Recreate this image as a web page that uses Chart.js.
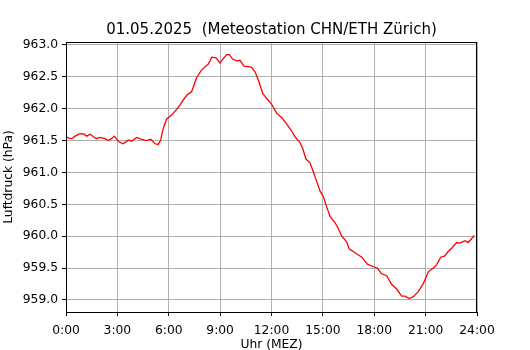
<!DOCTYPE html>
<html>
<head>
<meta charset="utf-8">
<title>Luftdruck 01.05.2025</title>
<script src="https://cdn.jsdelivr.net/npm/chart.js@4.4.1/dist/chart.umd.min.js"></script>
<style>
    body { margin: 0; background: #fff; }
    #chart { display: block; }
</style>
</head>
<body>
<canvas id="chart" width="530" height="350"></canvas>
<script>
// Messzeit (Stunden) und Luftdruck (hPa)
var hours = [0.00, 0.17, 0.33, 0.53, 0.75, 0.92, 1.05, 1.21, 1.40, 1.60, 1.79, 1.99, 2.15, 2.28, 2.47, 2.65,
    2.82, 3.06, 3.31, 3.50, 3.64, 3.83, 4.13, 4.42, 4.71, 4.94, 5.20, 5.39, 5.53, 5.68, 5.88, 6.17,
    6.46, 6.66, 6.85, 7.05, 7.34, 7.63, 7.92, 8.31, 8.51, 8.76, 8.99, 9.19, 9.38, 9.54, 9.73, 9.97,
    10.16, 10.39, 10.65, 10.84, 11.04, 11.23, 11.49, 11.72, 12.01, 12.30, 12.60, 12.89, 13.18, 13.37,
    13.66, 13.82, 14.01, 14.25, 14.44, 14.64, 14.83, 15.03, 15.22, 15.42, 15.71, 15.90, 16.10, 16.39,
    16.53, 16.88, 17.27, 17.60, 17.95, 18.18, 18.43, 18.73, 19.02, 19.31, 19.60, 19.80, 20.05, 20.28,
    20.57, 20.87, 21.16, 21.45, 21.64, 21.88, 22.13, 22.32, 22.52, 22.81, 23.01, 23.30, 23.49, 23.84];
var pressure = [961.56, 961.54, 961.53, 961.57, 961.60, 961.61, 961.60, 961.57, 961.60, 961.56, 961.53, 961.55, 961.54, 961.53, 961.50, 961.53,
    961.57, 961.49, 961.45, 961.48, 961.51, 961.49, 961.55, 961.52, 961.50, 961.52, 961.45, 961.44, 961.51, 961.69, 961.84, 961.90,
    961.99, 962.06, 962.14, 962.21, 962.27, 962.49, 962.61, 962.70, 962.81, 962.80, 962.72, 962.79, 962.85, 962.85, 962.78, 962.75,
    962.76, 962.67, 962.66, 962.65, 962.58, 962.45, 962.24, 962.16, 962.07, 961.93, 961.86, 961.76, 961.65, 961.56,
    961.47, 961.38, 961.21, 961.15, 961.01, 960.86, 960.71, 960.62, 960.46, 960.31, 960.21, 960.12, 960.00, 959.91,
    959.80, 959.74, 959.67, 959.56, 959.52, 959.50, 959.41, 959.38, 959.24, 959.17, 959.06, 959.06, 959.02, 959.05,
    959.13, 959.26, 959.44, 959.50, 959.55, 959.67, 959.69, 959.76, 959.81, 959.90, 959.89, 959.93, 959.90, 960.01];

var xTicks = [0, 3, 6, 9, 12, 15, 18, 21, 24];
var xLabels = ["0:00", "3:00", "6:00", "9:00", "12:00", "15:00", "18:00", "21:00", "24:00"];
var yTicks = [959.0, 959.5, 960.0, 960.5, 961.0, 961.5, 962.0, 962.5, 963.0];

var titleText = "01.05.2025  (Meteostation CHN/ETH Zürich)";
var fontFam = "'DejaVu Sans', sans-serif";

var points = hours.map(function (h, i) {
    return {x: h, y: pressure[i]};
});

// Rahmen und Titel wie bei matplotlib
var framePlugin = {
    id: 'frame',
    afterDraw: function (chart) {
        var a = chart.chartArea;
        var c = chart.ctx;
        c.save();
        c.strokeStyle = '#000';
        c.lineWidth = 1;
        c.strokeRect(a.left + 0.5, a.top + 0.5, a.right - a.left - 1, a.bottom - a.top);
        c.fillStyle = '#000';
        c.font = "15px " + fontFam;
        c.textAlign = 'center';
        c.textBaseline = 'alphabetic';
        c.fillText(titleText, (a.left + a.right) / 2, 34);
        c.restore();
    }
};

var ctx = document.getElementById('chart').getContext('2d');
var myChart = new Chart(ctx, {
    type: 'line',
    data: {
        datasets: [{
            data: points,
            borderColor: 'red',
            borderWidth: 1.3,
            pointRadius: 0,
            tension: 0,
            fill: false
        }]
    },
    options: {
        responsive: false,
        animation: false,
        devicePixelRatio: 1,
        layout: {padding: {left: 0, right: 53, top: 42, bottom: 0}},
        plugins: {
            legend: {display: false},
            title: {display: false},
            tooltip: {enabled: false}
        },
        scales: {
            x: {
                type: 'linear',
                min: 0,
                max: 24,
                afterBuildTicks: function (s) {
                    s.ticks = xTicks.map(function (v) { return {value: v}; });
                },
                afterFit: function (s) { s.height = 38; },
                ticks: {
                    color: '#000',
                    font: {family: fontFam, size: 12.3},
                    padding: 7,
                    maxRotation: 0,
                    autoSkip: false,
                    callback: function (v) {
                        return xLabels[xTicks.indexOf(v)];
                    }
                },
                grid: {color: '#b0b0b0', lineWidth: 1, tickColor: '#000', tickLength: 4},
                border: {color: '#000', width: 1},
                title: {
                    display: true,
                    text: 'Uhr (MEZ)',
                    color: '#000',
                    font: {family: fontFam, size: 12.3},
                    padding: {top: -2, bottom: -2}
                }
            },
            y: {
                min: 958.81,
                max: 963.047,
                afterBuildTicks: function (s) {
                    s.ticks = yTicks.map(function (v) { return {value: v}; });
                },
                afterFit: function (s) { s.width = 66; },
                ticks: {
                    color: '#000',
                    font: {family: fontFam, size: 12.3},
                    padding: 4,
                    callback: function (v) { return v.toFixed(1); }
                },
                grid: {color: '#b0b0b0', lineWidth: 1, tickColor: '#000', tickLength: 4},
                border: {color: '#000', width: 1},
                title: {
                    display: true,
                    text: 'Luftdruck (hPa)',
                    color: '#000',
                    font: {family: fontFam, size: 12.3},
                    padding: {top: 1, bottom: 0}
                }
            }
        }
    },
    plugins: [framePlugin]
});
</script>
</body>
</html>
